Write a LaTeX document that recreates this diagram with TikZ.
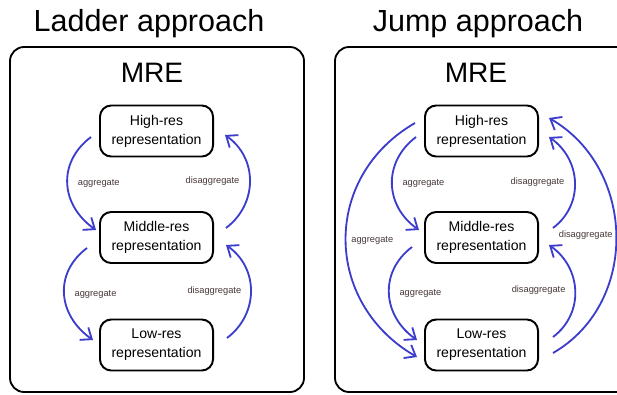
\documentclass[tikz,border=0pt]{standalone}
\usepackage{fontspec}
\setmainfont{Liberation Sans}
\usetikzlibrary{arrows.meta,calc,positioning}
\definecolor{arrowblue}{RGB}{60,60,205}
\definecolor{lblgray}{RGB}{70,55,55}
\tikzset{
	repbox/.style={draw,line width=1.4pt,rounded corners=8pt,minimum width=2.825cm,minimum height=1.275cm,align=center,inner sep=0pt,font=\fontsize{10}{13.5}\selectfont},
	panel/.style={draw,line width=1.3pt,rounded corners=10pt},
	title/.style={font=\fontsize{21.7}{26}\selectfont},
	mre/.style={font=\fontsize{20}{24}\selectfont},
	link/.style={draw=arrowblue,line width=1.3pt,-{Straight Barb[length=2.4mm,width=3.8mm]}},
	lbl/.style={text=lblgray,inner sep=0.5pt,font=\fontsize{6.6}{8}\selectfont},
}
\begin{document}
\begin{tikzpicture}[x=0.025cm,y=0.025cm]
				\useasboundingbox (0,0) rectangle (617,-394);
				\clip (0,0) rectangle (617,-394);
				
				% ladder approach
				\node (lTitle) at (149,-24) [title] {Ladder approach};
				\draw[panel] (10,-47) rectangle (304,-392);
				\node (lMRE) at (152,-73) [mre] {MRE};
				\node (lHigh) at (156.5,-131) [repbox] {High-res\\representation};
				\node (lMid) at ($(lHigh)+(0,-106.5)$) [repbox] {Middle-res\\representation};
				\node (lLow) at ($(lMid)+(0,-107.5)$) [repbox] {Low-res\\representation};
				\draw[link] ([shift={(-8,-6)}]lHigh.west) to[out=217,in=145,looseness=1.18] node[lbl,midway,right=2.2mm] {aggregate} ([shift={(-3,7.5)}]lMid.west);
				\draw[link] ([shift={(-12,-10.5)}]lMid.west) to[out=217,in=145,looseness=1.18] node[lbl,midway,right=2.2mm] {aggregate} ([shift={(-6,5)}]lLow.west);
				\draw[link] ([shift={(12,9.5)}]lMid.east) to[out=37,in=-35,looseness=1.1] node[lbl,midway,left=2.2mm] {disaggregate} ([shift={(11,-4)}]lHigh.east);
				\draw[link] ([shift={(13,7)}]lLow.east) to[out=37,in=-35,looseness=1.1] node[lbl,midway,left=2mm] {disaggregate} ([shift={(12,-7.5)}]lMid.east);
				
				% jump approach
				\node (jTitle) at (478,-24) [title] {Jump approach};
				\draw[panel] (335,-47) rectangle (640,-392);
				\node (jMRE) at (476,-73) [mre] {MRE};
				\node (jHigh) at (481.5,-131) [repbox] {High-res\\representation};
				\node (jMid) at ($(jHigh)+(0,-106.5)$) [repbox] {Middle-res\\representation};
				\node (jLow) at ($(jMid)+(0,-107.5)$) [repbox] {Low-res\\representation};
				\draw[link] ([shift={(-8,-6)}]jHigh.west) to[out=217,in=145,looseness=1.15] node[lbl,midway,right=2.2mm] {aggregate} ([shift={(-5,7.5)}]jMid.west);
				\draw[link] ([shift={(-12,-9.5)}]jMid.west) to[out=217,in=145,looseness=1.15] node[lbl,midway,right=2.2mm] {aggregate} ([shift={(-7,5)}]jLow.west);
				\draw[link] ([shift={(-9,8)}]jHigh.west) to[out=210,in=150,looseness=1.18] node[lbl,midway,right=1mm] {aggregate} ([shift={(-7,-12)}]jLow.west);
				\draw[link] ([shift={(14,9.5)}]jMid.east) to[out=37,in=-35,looseness=1.1] node[lbl,midway,left=2.2mm] {disaggregate} ([shift={(10,-6)}]jHigh.east);
				\draw[link] ([shift={(14,8)}]jLow.east) to[out=37,in=-35,looseness=1.1] node[lbl,midway,left=2mm] {disaggregate} ([shift={(10,-7.5)}]jMid.east);
				\draw[link] ([shift={(14,-8)}]jLow.east) to[out=30,in=-30,looseness=1.09] node[lbl,midway,left=0.5mm] {disaggregate} ([shift={(10,13)}]jHigh.east);
\end{tikzpicture}
\end{document}
